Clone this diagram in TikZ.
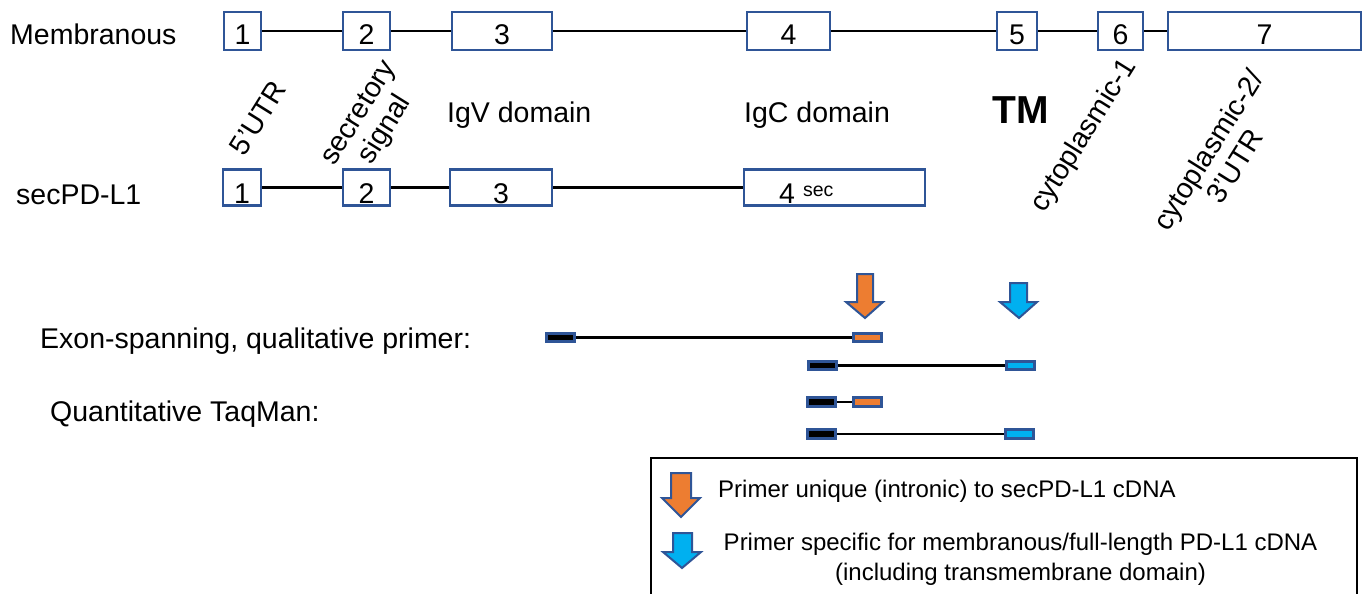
\documentclass[tikz,border=0pt]{standalone}
\usepackage{fontspec}
\setmainfont{Liberation Sans}
\definecolor{exonblue}{HTML}{2F5597}
\definecolor{primorange}{HTML}{ED7D31}
\definecolor{primblue}{HTML}{00B0F0}
\newcommand{\lblfont}{\fontsize{28.5}{31}\selectfont}
\newcommand{\legfont}{\fontsize{24}{30}\selectfont}
\begin{document}
\begin{tikzpicture}[x=1pt,y=-1pt,
  exon/.style={draw=exonblue, line width=2.2pt, fill=white, inner sep=0pt,
    font=\lblfont, text depth=0pt},
  toprow/.style={exon, minimum height=38pt, text height=28pt},
  secrow/.style={exon, minimum height=36pt, text height=32pt},
  intron/.style={line width=2.4pt, black},
  primer/.style={draw=exonblue, line width=2.6pt, minimum width=28.5pt,
    minimum height=8.5pt, inner sep=0pt},
  pline/.style={line width=2.4pt, black},
  arrowline/.style={draw=exonblue, line width=2pt},
  lbl/.style={font=\lblfont, inner sep=0pt},
  rot/.style={lbl, rotate=58, align=center},
  leg/.style={font=\legfont, inner sep=0pt}]
\useasboundingbox (0,0) rectangle (1366,594);

% transcript names
\node[lbl, anchor=base west] (memb) at (10,45) {Membranous};
\node[lbl, anchor=base west] (sec) at (16,204) {secPD-L1};

% membranous (full-length) transcript
\node[toprow, minimum width=37pt]  (m1) at (242.5,31) {1};
\node[toprow, minimum width=47pt]  (m2) at (366.5,31) {2};
\node[toprow, minimum width=100pt] (m3) at (502,31) {3};
\node[toprow, minimum width=83pt]  (m4) at (788.5,31) {4};
\node[toprow, minimum width=40pt]  (m5) at (1017,31) {5};
\node[toprow, minimum width=45pt]  (m6) at (1120.5,31) {6};
\node[toprow, minimum width=193pt] (m7) at (1264.5,31) {7};
\foreach \a/\b in {m1/m2,m2/m3,m3/m4,m4/m5,m5/m6,m6/m7}
  \draw[intron] (\a) -- (\b);

% secreted transcript
\node[secrow, minimum width=38pt]  (s1) at (242,187.5) {1};
\node[secrow, minimum width=47pt]  (s2) at (366.5,187.5) {2};
\node[secrow, minimum width=102pt] (s3) at (501,187.5) {3};
\node[secrow, minimum width=181pt] (s4) at (834.5,187.5) {};
\node[lbl, anchor=base west] (s4lbl) at (779,203)
  {4\hspace{8pt}\raisebox{7pt}{\fontsize{19.5}{20}\selectfont sec}};
\foreach \a/\b in {s1/s2,s2/s3,s3/s4}
  \draw[intron] (\a) -- (\b);

% domain labels
\node[rot] (utr5) at (258,118) {5’UTR};
\node[rot] (sig) at (373,122) {secretory\\signal};
\node[lbl, anchor=base west] (igv) at (447,122) {IgV domain};
\node[lbl, anchor=base west] (igc) at (744,122) {IgC domain};
\node[lbl, anchor=base west, font=\fontsize{39}{40}\selectfont\bfseries] (tm) at (992,124) {TM};
\node[rot] (cyt1) at (1084,136) {cytoplasmic-1};
\node[rot] (cyt2) at (1221,158) {cytoplasmic-2/\\3’UTR};

% primer positions
\draw[arrowline, fill=primorange] (857,274) -- (873,274) -- (873,302) -- (883,302)
  -- (865,318) -- (846,302) -- (857,302) -- cycle;
\draw[arrowline, fill=primblue] (1010,283) -- (1027,283) -- (1027,302) -- (1037,302)
  -- (1019,318) -- (1000,302) -- (1010,302) -- cycle;

\node[lbl, anchor=base west] (exsp) at (40,348) {Exon-spanning, qualitative primer:};
\node[lbl, anchor=base west] (taq) at (50,421) {Quantitative TaqMan:};

\node[primer, fill=black] (a1) at (560.5,337.5) {};
\node[primer, fill=primorange] (o1) at (867.5,337.5) {};
\node[primer, fill=black] (a2) at (822.5,365.5) {};
\node[primer, fill=primblue] (c2) at (1020.5,365.5) {};
\node[primer, fill=black] (a3) at (821.5,402) {};
\node[primer, fill=primorange] (o3) at (867.5,402) {};
\node[primer, fill=black] (a4) at (821.5,434) {};
\node[primer, fill=primblue] (c4) at (1019.5,434) {};
\foreach \a/\b in {a1/o1,a2/c2,a3/o3,a4/c4}
  \draw[pline] (\a) -- (\b);

% legend
\node[draw=black, line width=2.4pt, inner sep=0pt, minimum width=706pt,
  minimum height=150pt] (legend) at (1004,533) {};
\draw[arrowline, fill=primorange] (671,473) -- (691,473) -- (691,498) -- (700,498)
  -- (681,517) -- (662,498) -- (671,498) -- cycle;
\draw[arrowline, fill=primblue] (673,533) -- (692,533) -- (692,552) -- (701,552)
  -- (682,568) -- (663,552) -- (673,552) -- cycle;
\node[leg, anchor=base west] (leg1) at (718,497) {Primer unique (intronic) to secPD-L1 cDNA};
\node[leg, align=center] (leg2) at (1020.5,559)
  {Primer specific for membranous/full-length PD-L1 cDNA\\(including transmembrane domain)};
\end{tikzpicture}
\end{document}
